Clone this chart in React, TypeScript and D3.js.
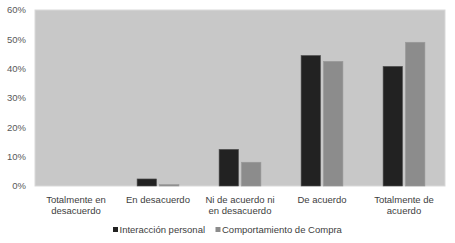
import React from "react";
import * as d3 from "d3";

const categories: string[][] = [
  ["Totalmente en", "desacuerdo"],
  ["En desacuerdo"],
  ["Ni de acuerdo ni", "en desacuerdo"],
  ["De acuerdo"],
  ["Totalmente de", "acuerdo"],
];
const seriesNames = ["Interacción personal", "Comportamiento de Compra"];
const interaccion = [0, 0.024, 0.125, 0.445, 0.408];
const compra = [0, 0.005, 0.081, 0.425, 0.49];
const yTicks = [0, 0.1, 0.2, 0.3, 0.4, 0.5, 0.6];
const colors = ["#222222", "#8c8c8c"];

export default function App() {
  const W = 455, H = 243;
  const left = 35, right = 445, top = 10, bottom = 186;
  const x = d3.scaleBand<number>().domain(d3.range(categories.length)).range([left, right]).paddingInner(0.49).paddingOuter(0.245);
  const xi = d3.scaleBand<number>().domain([0, 1]).range([0, x.bandwidth()]).paddingInner(0.13);
  const y = d3.scaleLinear().domain([0, 0.6]).range([bottom, top]);
  const series = [interaccion, compra];
  const font = "'Liberation Sans', Arial, sans-serif";
  const step = (right - left) / categories.length;
  return (
    <svg width={W} height={H} style={{ position: "absolute", left: 0, top: 0 }} fontFamily={font}>
      <rect x={0} y={0} width={W} height={H} fill="#ffffff" />
      <rect x={left} y={top} width={right - left} height={bottom - top} fill="#c8c8c8" stroke="#d9d9d9" strokeWidth={1} />
      {yTicks.map((t) => (
        <text key={t} x={26} y={y(t)} dy="0.35em" textAnchor="end" fontSize={9.5} fill="#595959">
          {d3.format(".0%")(t)}
        </text>
      ))}
      {series.map((s, si) =>
        s.map((v, ci) =>
          v > 0 ? (
            <rect
              key={`${si}-${ci}`}
              x={(x(ci) as number) + (xi(si) as number)}
              y={y(v)}
              width={xi.bandwidth()}
              height={bottom - y(v)}
              fill={colors[si]}
              stroke={si === 0 ? "#555" : "#9a9a9a"}
              strokeWidth={0.6}
            />
          ) : null
        )
      )}
      {categories.map((lines, ci) => (
        <text key={ci} x={left + step * (ci + 0.5)} y={199.3} textAnchor="middle" fontSize={9.5} fill="#404040">
          {lines.map((l, li) => (
            <tspan key={li} x={left + step * (ci + 0.5)} dy={li === 0 ? "0.35em" : "1.15em"}>
              {l}
            </tspan>
          ))}
        </text>
      ))}
      {seriesNames.map((n, i) => {
        const lx = i === 0 ? 113 : 215.5;
        return (
          <g key={n}>
            <rect x={lx} y={227} width={5} height={5} fill={colors[i]} />
            <text x={lx + 6.5} y={229.8} dy="0.35em" fontSize={9.5} fill="#404040">
              {n}
            </text>
          </g>
        );
      })}
    </svg>
  );
}
